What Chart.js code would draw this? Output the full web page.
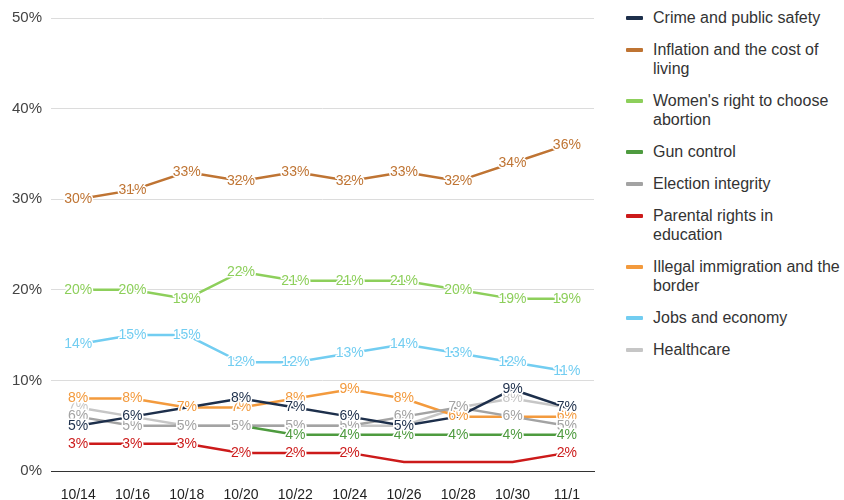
<!DOCTYPE html>
<html>
<head>
<meta charset="utf-8">
<script src="https://cdn.jsdelivr.net/npm/chart.js@4.4.0/dist/chart.umd.min.js"></script>
<style>
  body { margin: 0; background: #fff; }
  #wrap { position: relative; width: 844px; height: 500px; }
  #box { position: absolute; left: 0; top: 0; width: 600px; height: 500px; }
  #legend { position: absolute; left: 626px; top: 8px; font-family: "Liberation Sans", Arial, sans-serif; font-size: 16px; color: #333; line-height: 19px; }
  .item { position: relative; padding-left: 27px; margin-bottom: 13px; white-space: nowrap; }
  .sw { position: absolute; left: 0; top: 8px; width: 17px; height: 4px; border-radius: 1px; }
</style>
</head>
<body>
<div id="wrap">
  <div id="box"><canvas id="grafica"></canvas></div>
  <div id="legend"></div>
</div>
<script>
// fechas del eje x
const fechas = ["10/14", "10/16", "10/18", "10/20", "10/22", "10/24", "10/26", "10/28", "10/30", "11/1"];
const ticksY = [0, 10, 20, 30, 40, 50];

// series (porcentaje)
const crimen = [5, 6, 7, 8, 7, 6, 5, 6, 9, 7];
const inflacion = [30, 31, 33, 32, 33, 32, 33, 32, 34, 36];
const aborto = [20, 20, 19, 22, 21, 21, 21, 20, 19, 19];
const armas = [null, null, null, 5, 4, 4, 4, 4, 4, 4];
const elecciones = [6, 5, 5, 5, 5, 5, 6, 7, 6, 5];
const padres = [3, 3, 3, 2, 2, 2, 1, 1, 1, 2];
const inmigracion = [8, 8, 7, 7, 8, 9, 8, 6, 6, 6];
const empleo = [14, 15, 15, 12, 12, 13, 14, 13, 12, 11];
const salud = [7, 6, 5, 5, 5, 5, 5, 7, 8, 7];

// etiquetas tapadas en el original
const series = [
  { nombre: "Crime and public safety", leyenda: "Crime and public safety", datos: crimen, color: "#1d2f4b", sinEtiqueta: [2, 7] },
  { nombre: "Inflation and the cost of living", leyenda: "Inflation and the cost of<br>living", datos: inflacion, color: "#bf7433" },
  { nombre: "Women's right to choose abortion", leyenda: "Women's right to choose<br>abortion", datos: aborto, color: "#8dcf5b" },
  { nombre: "Gun control", leyenda: "Gun control", datos: armas, color: "#4e9b3f", sinEtiqueta: [3] },
  { nombre: "Election integrity", leyenda: "Election integrity", datos: elecciones, color: "#a3a3a3" },
  { nombre: "Parental rights in education", leyenda: "Parental rights in<br>education", datos: padres, color: "#cc1a1a", sinEtiqueta: [6, 7, 8] },
  { nombre: "Illegal immigration and the border", leyenda: "Illegal immigration and the<br>border", datos: inmigracion, color: "#f39a3d" },
  { nombre: "Jobs and economy", leyenda: "Jobs and economy", datos: empleo, color: "#72cdf1" },
  { nombre: "Healthcare", leyenda: "Healthcare", datos: salud, color: "#c6c6c6" }
];

// leyenda en html (para poder partir en dos lineas)
document.getElementById("legend").innerHTML = series.map(s =>
  `<div class="item"><span class="sw" style="background:${s.color}"></span>${s.leyenda}</div>`
).join("");

// etiquetas de valor encima de cada punto
const etiquetas = {
  id: "etiquetas",
  afterDatasetsDraw(chart) {
    const ctx = chart.ctx;
    ctx.save();
    ctx.font = "14px 'Liberation Sans', Arial, sans-serif";
    ctx.textAlign = "center";
    ctx.textBaseline = "middle";
    ctx.lineJoin = "round";
    for (let i = chart.data.datasets.length - 1; i >= 0; i--) {
      const ds = chart.data.datasets[i];
      const meta = chart.getDatasetMeta(i);
      const saltar = series[i].sinEtiqueta || [];
      meta.data.forEach((p, j) => {
        if (saltar.includes(j) || ds.data[j] == null) return;
        const txt = ds.data[j] + "%";
        ctx.strokeStyle = "#fff";
        ctx.lineWidth = 3;
        ctx.strokeText(txt, p.x, p.y);
        ctx.fillStyle = ds.borderColor;
        ctx.fillText(txt, p.x, p.y);
      });
    }
    ctx.restore();
  }
};

const ctx = document.getElementById("grafica").getContext("2d");
new Chart(ctx, {
  type: "line",
  data: {
    labels: fechas,
    datasets: series.map(s => ({
      label: s.nombre,
      data: s.datos,
      borderColor: s.color,
      backgroundColor: s.color,
      borderWidth: 2.5,
      pointRadius: 0,
      tension: 0
    }))
  },
  options: {
    responsive: true,
    maintainAspectRatio: false,
    animation: false,
    layout: { padding: { top: 17, right: 6, left: 0, bottom: 0 } },
    plugins: { legend: { display: false }, tooltip: { enabled: false } },
    scales: {
      x: {
        offset: true,
        grid: { display: false },
        border: { color: "#333", width: 1 },
        ticks: { color: "#222", font: { family: "'Liberation Sans', Arial", size: 14 }, padding: 8, maxRotation: 0 },
        afterFit: a => { a.height = 29; }
      },
      y: {
        min: 0,
        max: 50,
        afterBuildTicks: a => { a.ticks = ticksY.map(v => ({ value: v })); },
        grid: { color: "#dcdcdc", drawTicks: false },
        border: { display: false },
        ticks: { color: "#444", font: { family: "'Liberation Sans', Arial", size: 15 }, padding: 9, callback: v => v + "%" },
        afterFit: a => { a.width = 51; }
      }
    }
  },
  plugins: [etiquetas]
});
</script>
</body>
</html>
